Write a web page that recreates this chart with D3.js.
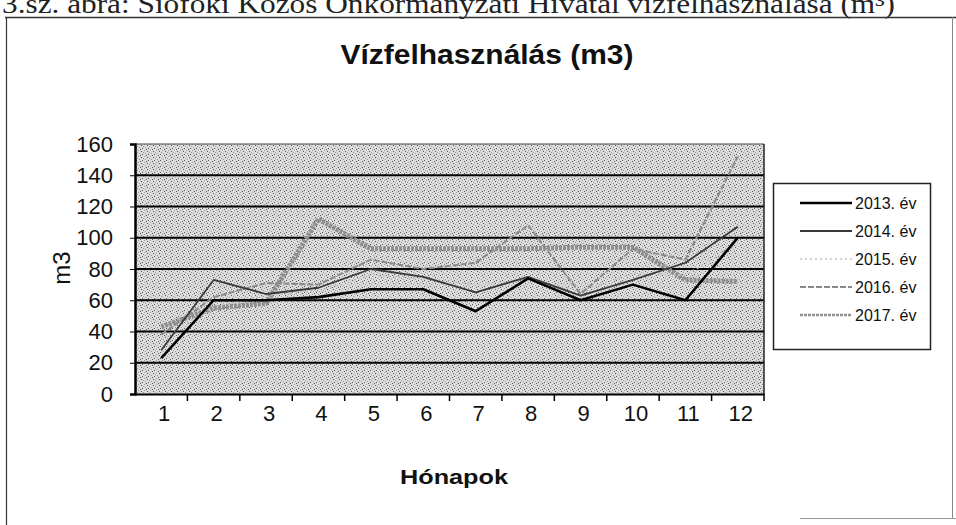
<!DOCTYPE html>
<html><head><meta charset="utf-8">
<script src="https://cdn.jsdelivr.net/npm/d3@7"></script>
<style>body{margin:0;background:#fff}svg{display:block}</style>
</head><body>
<svg id="c" width="956" height="525"></svg>
<script>
const months = ["1","2","3","4","5","6","7","8","9","10","11","12"];
const yTicks = [0,20,40,60,80,100,120,140,160];
const seriesNames = ["2013. év","2014. év","2015. év","2016. év","2017. év"];
const v2013 = [23,60,60,62,67,67,53,74,60,70,60,100];
const v2014 = [28,73,64,68,80,75,65,75,63,73,84,107];
const v2015 = [35,56,63,66,76,74,70,73,66,77,76,96];
const v2016 = [38,62,71,70,86,80,84,108,64,93,86,152];
const v2017 = [43,55,58,112,93,93,93,93,94,94,73,72];
const allValues = [v2013,v2014,v2015,v2016,v2017];
const colors = ["#000000","#3a3a3a","#c4c4c4","#8a8a8a","#8f8f8f"];
const widths = [2.6,1.8,1.6,2,5];
const dashes = [null,null,"2,3","6,2","3,1"];

const svg = d3.select("#c");
const defs = svg.append("defs");
const pat = defs.append("pattern").attr("id","stip").attr("width",6).attr("height",6).attr("patternUnits","userSpaceOnUse");
pat.append("rect").attr("width",6).attr("height",6).attr("fill","#dcdcdc");
[[0,0],[3,1],[1,3],[4,4],[5,2],[2,5]].forEach(([a,b],i)=>pat.append("rect").attr("x",a).attr("y",b).attr("width",1).attr("height",1).attr("fill", i%2?"#555":"#9a9a9a"));

// caption (cut off at top, as in the scan)
svg.append("text").attr("x",2).attr("y",13).attr("font-family","Liberation Serif").attr("font-size",27)
  .attr("textLength",893).attr("lengthAdjust","spacingAndGlyphs").attr("fill","#222")
  .text("3.sz. ábra: Siófoki Közös Önkormányzati Hivatal vízfelhasználása (m³)");
// frame
svg.append("line").attr("x1",5).attr("x2",956).attr("y1",17.5).attr("y2",17.5).attr("stroke","#333").attr("stroke-width",1.5);
svg.append("line").attr("x1",6.5).attr("x2",6.5).attr("y1",17).attr("y2",525).attr("stroke","#333").attr("stroke-width",1.2);
svg.append("line").attr("x1",952.5).attr("x2",952.5).attr("y1",17).attr("y2",518).attr("stroke","#888").attr("stroke-width",1);
svg.append("line").attr("x1",800).attr("x2",956).attr("y1",518.5).attr("y2",518.5).attr("stroke","#999").attr("stroke-width",1);

const L=135,R=764,T=144,B=394;
const x = d3.scaleBand().domain(months).range([L,R]);
const y = d3.scaleLinear().domain([0,160]).range([B,T]);

svg.append("rect").attr("x",L).attr("y",T).attr("width",R-L).attr("height",B-T).attr("fill","url(#stip)");
// gridlines
svg.append("g").selectAll("line").data(yTicks.filter(d=>d>0&&d<160)).join("line")
  .attr("x1",L).attr("x2",R).attr("y1",d=>y(d)).attr("y2",d=>y(d)).attr("stroke","#000").attr("stroke-width",1.8);
svg.append("line").attr("x1",L).attr("x2",R).attr("y1",T).attr("y2",T).attr("stroke","#444").attr("stroke-width",1);
svg.append("line").attr("x1",R).attr("x2",R).attr("y1",T).attr("y2",B).attr("stroke","#222").attr("stroke-width",1.5);

// axes
const yAxis = svg.append("g").attr("transform",`translate(${L},0)`)
  .call(d3.axisLeft(y).tickValues(yTicks).tickSize(5).tickPadding(17));
yAxis.select(".domain").attr("stroke","#000").attr("stroke-width",2.5);
yAxis.selectAll("text").attr("font-family","Liberation Sans, Arial").attr("font-size",22).attr("fill","#111");
const xAxis = svg.append("g").attr("transform",`translate(0,${B})`)
  .call(d3.axisBottom(x).tickSize(0).tickPadding(8));
xAxis.select(".domain").attr("stroke","#000").attr("stroke-width",2);
xAxis.selectAll("text").attr("font-family","Liberation Sans, Arial").attr("font-size",22).attr("fill","#111").attr("dy","0.85em").attr("dx","3");
svg.append("g").selectAll("line").data(months.slice(1).concat(["end"])).join("line")
  .attr("x1",(d,i)=>L+(i+1)*x.step()).attr("x2",(d,i)=>L+(i+1)*x.step())
  .attr("y1",B).attr("y2",B+7).attr("stroke","#000").attr("stroke-width",1.5);

// lines
const line = d3.line().x((d,i)=>x(months[i])+x.bandwidth()/2).y(d=>y(d));
const order=[4,2,3,1,0];
order.forEach(k=>{
  svg.append("path").datum(allValues[k]).attr("d",line).attr("fill","none")
    .attr("stroke",colors[k]).attr("stroke-width",widths[k]).attr("stroke-dasharray",dashes[k])
    .attr("stroke-linejoin","round");
});

// titles
svg.append("text").attr("x",487).attr("y",64).attr("text-anchor","middle").attr("font-family","Liberation Sans, Arial")
  .attr("font-weight","bold").attr("font-size",27).attr("textLength",293).attr("lengthAdjust","spacingAndGlyphs")
  .attr("fill","#111").text("Vízfelhasználás (m3)");
svg.append("text").attr("x",454).attr("y",484).attr("text-anchor","middle").attr("font-family","Liberation Sans, Arial")
  .attr("font-weight","bold").attr("font-size",21).attr("textLength",108).attr("lengthAdjust","spacingAndGlyphs")
  .attr("fill","#111").text("Hónapok");
svg.append("text").attr("transform","translate(70,268) rotate(-90)").attr("text-anchor","middle").attr("font-family","Liberation Sans, Arial")
  .attr("font-size",24).attr("fill","#111").text("m3");

// legend
const lg = svg.append("g");
lg.append("rect").attr("x",773.5).attr("y",183.5).attr("width",157).attr("height",166).attr("fill","#fff").attr("stroke","#222").attr("stroke-width",1.5);
const ly = d3.scalePoint().domain(seriesNames).range([203,315]);
seriesNames.forEach((n,k)=>{
  lg.append("line").attr("x1",800).attr("x2",852).attr("y1",ly(n)).attr("y2",ly(n))
    .attr("stroke",colors[k]).attr("stroke-width",Math.min(widths[k],2.5)).attr("stroke-dasharray",dashes[k]);
  lg.append("text").attr("x",855).attr("y",ly(n)+6).attr("font-family","Liberation Sans, Arial").attr("font-size",16)
    .attr("fill","#111").text(n);
});
</script>
</body></html>
